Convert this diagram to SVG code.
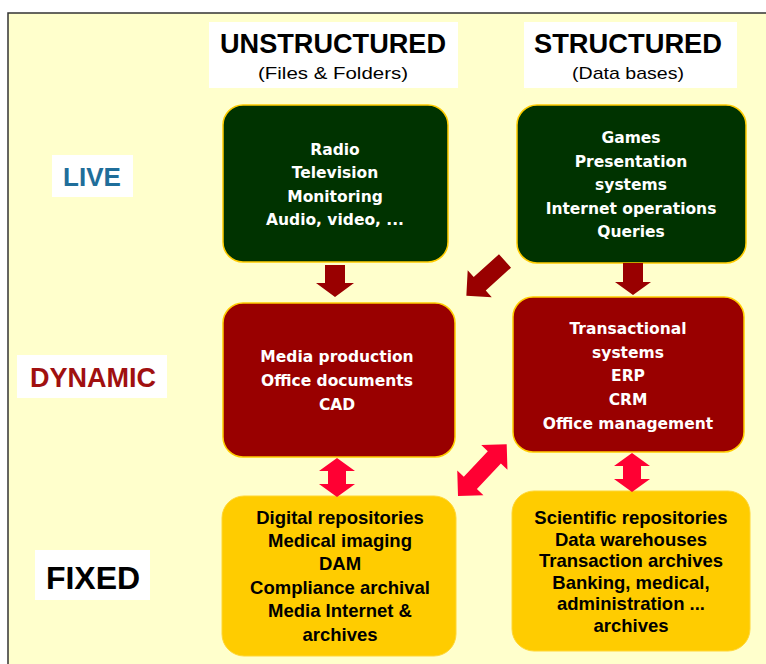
<svg xmlns="http://www.w3.org/2000/svg" width="766" height="664" viewBox="0 0 766 664">
<defs>
<style>
.hdr{font-family:"Liberation Sans",Arial,sans-serif;font-weight:bold;text-anchor:middle;fill:#000}
.sub{font-family:"Liberation Sans",Arial,sans-serif;font-size:17px;text-anchor:middle;fill:#000}
.lbl{font-family:"Liberation Sans",Arial,sans-serif;font-weight:bold;text-anchor:middle}
.wt{font-family:"DejaVu Sans",Verdana,sans-serif;font-weight:bold;font-size:15.5px;text-anchor:middle;fill:#fff}
.bt{font-family:"Liberation Sans",Arial,sans-serif;font-weight:bold;font-size:18.5px;text-anchor:middle;fill:#000}
.green{fill:#003300;stroke:#ffcc00;stroke-width:1.5}
.dred{fill:#990000;stroke:#ffcc00;stroke-width:1.5}
.yel{fill:#ffcc00;stroke:#ffd633;stroke-width:1}
.wbox{fill:#fff}
.arr{fill:#990000}
.darr{fill:#ff0033}
</style>
</defs>
<rect x="0" y="0" width="766" height="664" fill="#fff"/>
<rect x="8" y="13" width="770" height="660" fill="#ffffcc" stroke="#333" stroke-width="1.5"/>

<g id="header-unstructured">
<rect class="wbox" x="209" y="22" width="249" height="66"/>
<text class="hdr" x="333" y="53" font-size="27" textLength="226" lengthAdjust="spacingAndGlyphs">UNSTRUCTURED</text>
<text class="sub" x="333" y="79" textLength="150" lengthAdjust="spacingAndGlyphs">(Files &amp; Folders)</text>
</g>
<g id="header-structured">
<rect class="wbox" x="524" y="22" width="213" height="66"/>
<text class="hdr" x="628" y="53" font-size="27" textLength="188" lengthAdjust="spacingAndGlyphs">STRUCTURED</text>
<text class="sub" x="628" y="79" textLength="112" lengthAdjust="spacingAndGlyphs">(Data bases)</text>
</g>

<g id="label-live">
<rect class="wbox" x="52" y="155" width="81" height="42"/>
<text class="lbl" x="92" y="186" font-size="26" fill="#1f6e9a">LIVE</text>
</g>
<g id="label-dynamic">
<rect class="wbox" x="17" y="355" width="150" height="43"/>
<text class="lbl" x="93" y="387" font-size="27" fill="#a01010">DYNAMIC</text>
</g>
<g id="label-fixed">
<rect class="wbox" x="35" y="550" width="115" height="50"/>
<text class="lbl" x="93" y="589" font-size="32" fill="#000">FIXED</text>
</g>

<g id="live-unstructured">
<rect class="green" x="223" y="105" width="225" height="157" rx="20"/>
<text class="wt" x="335" y="155">Radio</text>
<text class="wt" x="335" y="178">Television</text>
<text class="wt" x="335" y="202">Monitoring</text>
<text class="wt" x="335" y="225">Audio, video, ...</text>
</g>
<g id="live-structured">
<rect class="green" x="517" y="105" width="229" height="158" rx="20"/>
<text class="wt" x="631" y="143">Games</text>
<text class="wt" x="631" y="167">Presentation</text>
<text class="wt" x="631" y="190">systems</text>
<text class="wt" x="631" y="214">Internet operations</text>
<text class="wt" x="631" y="237">Queries</text>
</g>
<g id="dynamic-unstructured">
<rect class="dred" x="223" y="303" width="232" height="154" rx="20"/>
<text class="wt" x="337" y="362">Media production</text>
<text class="wt" x="337" y="386">Office documents</text>
<text class="wt" x="337" y="410">CAD</text>
</g>
<g id="dynamic-structured">
<rect class="dred" x="513" y="297" width="231" height="155" rx="20"/>
<text class="wt" x="628" y="334">Transactional</text>
<text class="wt" x="628" y="358">systems</text>
<text class="wt" x="628" y="381">ERP</text>
<text class="wt" x="628" y="405">CRM</text>
<text class="wt" x="628" y="429">Office management</text>
</g>
<g id="fixed-unstructured">
<rect class="yel" x="222" y="496" width="234" height="160" rx="22"/>
<text class="bt" x="340" y="524">Digital repositories</text>
<text class="bt" x="340" y="547">Medical imaging</text>
<text class="bt" x="340" y="570">DAM</text>
<text class="bt" x="340" y="594">Compliance archival</text>
<text class="bt" x="340" y="617">Media Internet &amp;</text>
<text class="bt" x="340" y="641">archives</text>
</g>
<g id="fixed-structured">
<rect class="yel" x="512" y="491" width="238" height="160" rx="22"/>
<text class="bt" x="631" y="524">Scientific repositories</text>
<text class="bt" x="631" y="546">Data warehouses</text>
<text class="bt" x="631" y="567">Transaction archives</text>
<text class="bt" x="631" y="589">Banking, medical,</text>
<text class="bt" x="631" y="610">administration ...</text>
<text class="bt" x="631" y="632">archives</text>
</g>

<g id="connectors">
<polygon class="arr" points="325,265 345,265 345,283 354,283 335,297 316,283 325,283"/>
<polygon class="arr" points="623,263 643,263 643,282 651,282 633,295 615,282 623,282"/>
<g transform="translate(505,261) rotate(138)">
<polygon class="arr" points="0,-9 34,-9 34,-18 52,0 34,18 34,9 0,9"/>
</g>
<polygon class="darr" points="337,458 355,471 346,471 346,484 355,484 337,497 319,484 328,484 328,471 319,471"/>
<polygon class="darr" points="632,453 650,466 641,466 641,479 650,479 632,492 614,479 623,479 623,466 614,466"/>
<g transform="translate(458,496) rotate(-46.7)">
<polygon class="darr" points="0,0 18,-18 18,-9 53,-9 53,-18 71,0 53,18 53,9 18,9 18,18"/>
</g>
</g>
</svg>
